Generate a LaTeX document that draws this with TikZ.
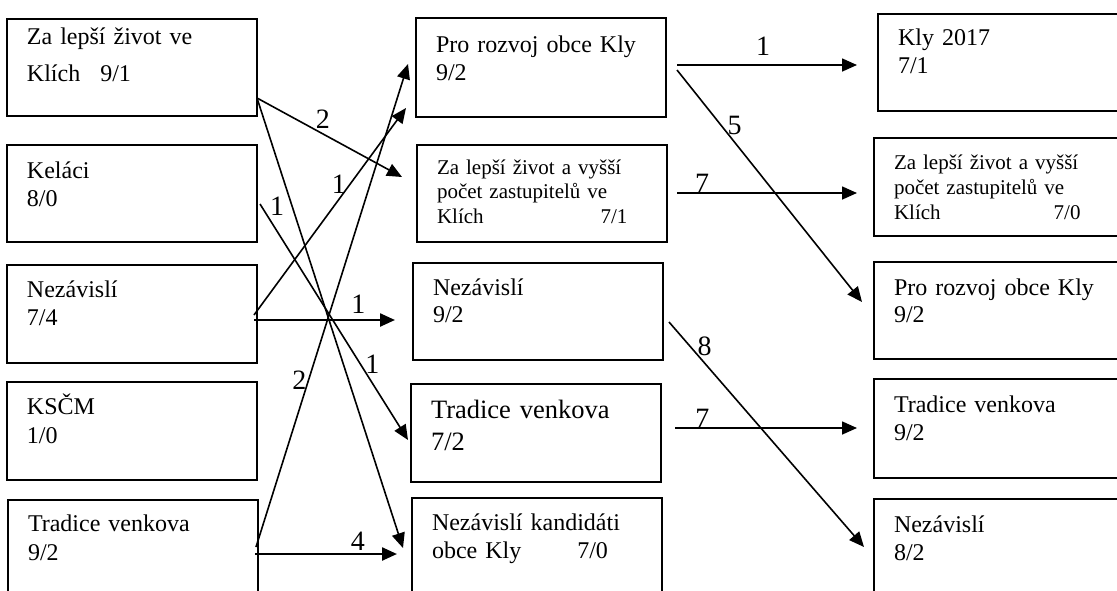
\documentclass[tikz,border=0pt]{standalone}
\usepackage{fontspec}
\setmainfont{Liberation Serif}
\usetikzlibrary{arrows.meta}

\tikzset{
  party/.style={draw, line width=2.2pt, anchor=north west, outer sep=0pt,
    inner xsep=20pt, inner ysep=0pt, align=left, text width=210pt,
    font=\fontsize{24}{28}\selectfont},
  wide/.style={text width=220pt},
  small/.style={font=\fontsize{21}{24.5}\selectfont},
  lbl/.style={font=\fontsize{28}{28}\selectfont, inner sep=1pt},
  bold/.style={line width=2.4pt}
}

\begin{document}
\begin{tikzpicture}[x=1pt,y=-1pt]
\useasboundingbox (0,0) rectangle (1117,590);
\clip (0,0) rectangle (1117,590);

\node[party,text height=25pt,text depth=72pt,font=\fontsize{24}{37}\selectfont] (L1) at (7,19) {Za lepší život ve\\Klích\hspace{20pt}9/1};
\node[party,text height=33pt,text depth=64pt] (L2) at (7,145) {Keláci\\8/0};
\node[party,text height=32pt,text depth=66pt] (L3) at (7,265) {Nezávislí\\7/4};
\node[party,text height=32pt,text depth=66pt,font=\fontsize{24}{29}\selectfont] (L4) at (7,382) {KSČM\\1/0};
\node[party,text height=31pt,text depth=79pt,font=\fontsize{24}{29}\selectfont] (L5) at (8,500) {Tradice venkova\\9/2};

\node[party,text height=34pt,text depth=65pt] (M1) at (416,18) {Pro rozvoj obce Kly\\9/2};
\node[party,small,text height=29pt,text depth=68pt] (M2) at (417,145) {Za lepší život a vyšší\\počet zastupitelů ve\\Klích\hspace{117pt}7/1};
\node[party,text height=32pt,text depth=65pt,font=\fontsize{24}{27}\selectfont] (M3) at (413,263) {Nezávislí\\9/2};
\node[party,text height=34pt,text depth=64pt,font=\fontsize{26.5}{32}\selectfont] (M4) at (411,384) {Tradice venkova\\7/2};
\node[party,text height=32pt,text depth=78pt] (M5) at (412,498) {Nezávislí kandidáti\\obce Kly\hspace{56pt}7/0};

\node[party,wide,text height=31pt,text depth=66pt] (R1) at (878,14) {Kly 2017\\7/1};
\node[party,wide,small,text height=31pt,text depth=67pt,font=\fontsize{21}{25}\selectfont] (R2) at (874,138) {Za lepší život a vyšší\\počet zastupitelů ve\\Klích\hspace{113pt}7/0};
\node[party,wide,text height=33pt,text depth=64pt,font=\fontsize{24}{27}\selectfont] (R3) at (874,262) {Pro rozvoj obce Kly\\9/2};
\node[party,wide,text height=33pt,text depth=66pt] (R4) at (874,379) {Tradice venkova\\9/2};
\node[party,wide,text height=33pt,text depth=77pt] (R5) at (874,499) {Nezávislí\\8/2};

\path[->,line width=1.6pt,>={Triangle[length=15pt,width=13pt]}]
([yshift=-79pt]L1.north east) edge node[lbl,pos=.455,above=4pt]{2} ([xshift=-15pt,yshift=-32pt]M2.north west)
([yshift=-79pt]L1.north east) edge node[lbl,pos=.24,left=6pt]{1} ([xshift=-9pt,yshift=-50pt]M5.north west)
([xshift=3pt,yshift=-59pt]L2.north east) edge node[lbl,pos=.68,right=3pt]{1} ([xshift=-3pt,yshift=-56pt]M4.north west)
([xshift=-3pt,yshift=-50pt]L3.north east) edge node[lbl,pos=.63,left=2pt]{1} ([xshift=-10pt,yshift=-90pt]M1.north west)
([xshift=-3pt,yshift=-55pt]L3.north east) edge[bold] node[lbl,pos=.74,above=4.5pt]{1} ([xshift=-18pt,yshift=-57pt]M3.north west)
([xshift=-2pt,yshift=-47pt]L5.north east) edge node[lbl,pos=.346,left=.5pt]{2} ([xshift=-8pt,yshift=-46pt]M1.north west)
([xshift=-3pt,yshift=-54pt]L5.north east) edge[bold] node[lbl,pos=.725,above=1.5pt]{4} ([xshift=-15pt,yshift=-56pt]M5.north west)
([xshift=11pt,yshift=-47pt]M1.north east) edge node[lbl,pos=.478,above=7.5pt]{1} ([xshift=-21pt,yshift=-51pt]R1.north west)
([xshift=11pt,yshift=-52pt]M1.north east) edge node[lbl,pos=.237,right=5pt]{5} ([xshift=-12pt,yshift=-40pt]R3.north west)
([xshift=10pt,yshift=-48pt]M2.north east) edge node[lbl,pos=.14,above=-1pt]{7} ([xshift=-17pt,yshift=-55pt]R2.north west)
([xshift=6pt,yshift=-59pt]M3.north east) edge node[lbl,pos=.107,right=6pt]{8} ([xshift=-10pt,yshift=-48pt]R5.north west)
([xshift=14pt,yshift=-44pt]M4.north east) edge node[lbl,pos=.15,above=-1pt]{7} ([xshift=-17pt,yshift=-49pt]R4.north west);
\end{tikzpicture}
\end{document}
